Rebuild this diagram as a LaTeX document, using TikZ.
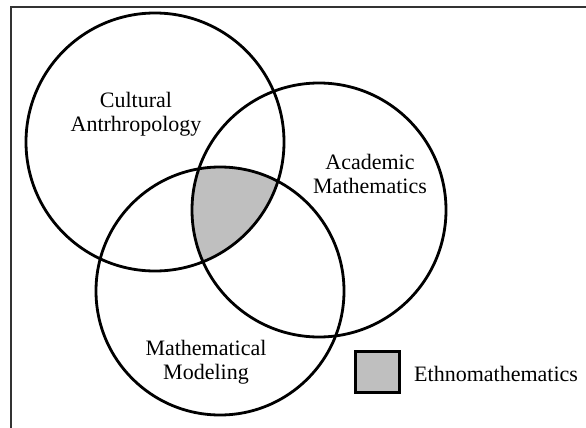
\documentclass[tikz,border=0pt]{standalone}
\usepackage{fontspec}
\setmainfont{Liberation Serif}
\begin{document}
\begin{tikzpicture}[x=1pt,y=-1pt,
  setcircle/.style={line width=2.8pt,draw=black},
  label/.style={font=\fontsize{22}{24}\selectfont,align=center,inner sep=0pt,text=black},
  frameline/.style={line width=1.1pt,draw=black!80}]
\useasboundingbox (0,0) rectangle (586,428);
\coordinate (cA) at (155,142);
\coordinate (cB) at (319,210);
\coordinate (cC) at (220,291);
% shaded triple intersection
\begin{scope}
  \clip (cA) circle[radius=129];
  \clip (cB) circle[radius=127];
  \fill[gray!50] (cC) circle[radius=124];
\end{scope}
\draw[setcircle] (cA) circle[radius=129];
\draw[setcircle] (cB) circle[radius=127];
\draw[setcircle] (cC) circle[radius=124];
% frame
\coordinate (f1) at (11,428);
\coordinate (f2) at (11,7);
\coordinate (f3) at (586,7);
\draw[frameline] (f1) -- (f2) -- (f3);
% labels
\node[label] (tA) at (136,114) {Cultural\\Antrhropology};
\node[label] (tB) at (370,174) {Academic\\Mathematics};
\node[label] (tC) at (206,362) {Mathematical\\Modeling};
\node[draw=black,line width=3pt,fill=gray!50,minimum width=44pt,minimum height=41pt,inner sep=0pt] (leg) at (377.5,372) {};
\node[label,anchor=west] (tleg) at (414,374) {Ethnomathematics};
\end{tikzpicture}
\end{document}
